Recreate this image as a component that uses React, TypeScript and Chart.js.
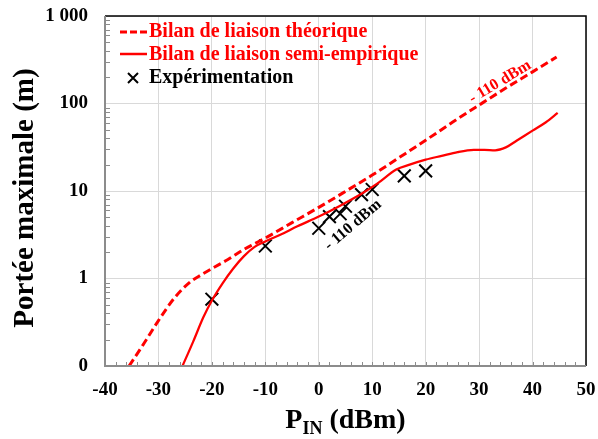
import React, { useEffect, useRef } from 'react';
import { Chart, registerables } from 'chart.js';

Chart.register(...registerables);

// ---- Data ----
const theoX = [-35.5, -33, -30, -27, -24, -22, -20, -17, -14, -12, -10, -5, 0, 5, 10, 15, 20, 25, 30, 35, 40, 44.5];
const theoY = [0.1, 0.17, 0.33, 0.6, 0.92, 1.1, 1.3, 1.65, 2.15, 2.5, 2.9, 4.35, 6.5, 9.9, 15.2, 24, 38, 61, 96, 150, 230, 340];

const semiX = [-25.5, -23.5, -21.6, -20, -18, -16, -14, -12, -10, -7, -4, 0, 4, 8, 11, 14.5, 17, 20, 23, 26, 29, 31, 33, 35, 37, 40, 42.5, 44.7];
const semiY = [0.1, 0.19, 0.36, 0.56, 0.88, 1.3, 1.8, 2.3, 2.65, 3.2, 3.95, 5.1, 6.8, 9.3, 12.2, 17.6, 20, 22.8, 25.2, 27.8, 29.5, 29.6, 29.2, 31.5, 37.5, 49, 61, 78];

const expX = [-20, -10, 0, 2, 4, 5, 8, 10, 16, 20];
const expY = [0.58, 2.35, 3.75, 5.1, 5.5, 6.7, 9.1, 10.4, 14.9, 17];

const xTicks = [-40, -30, -20, -10, 0, 10, 20, 30, 40, 50];
const yMajorTicks = [0.1, 1, 10, 100, 1000];
const yTickLabels = ['0', '1', '10', '100', '1 000'];

const legendLabels = ['Bilan de liaison théorique', 'Bilan de liaison semi-empirique', 'Expérimentation'];
const annotationText = '- 110 dBm';
const yTitle = 'Portée maximale (m)';
const xTitleMain = 'P';
const xTitleSub = 'IN';
const xTitleRest = ' (dBm)';

const SERIF = "'Liberation Serif', 'Times New Roman', serif";
const RED = '#ff0000';

const decorPlugin = {
  id: 'decor',
  afterDraw(chart: any) {
    const ctx = chart.ctx;
    const { left, right, top, bottom } = chart.chartArea;
    const xs = chart.scales.x;
    const ys = chart.scales.y;
    ctx.save();

    // minor ticks
    ctx.strokeStyle = '#8c8c8c';
    ctx.lineWidth = 1;
    ctx.beginPath();
    for (const d of [0.1, 1, 10, 100]) {
      for (let k = 2; k <= 9; k++) {
        const py = Math.round(ys.getPixelForValue(k * d)) + 0.5;
        ctx.moveTo(left, py);
        ctx.lineTo(left + 5, py);
      }
    }
    for (let v = -38; v < 50; v += 2) {
      const px = Math.round(xs.getPixelForValue(v)) + 0.5;
      ctx.moveTo(px, bottom);
      ctx.lineTo(px, bottom - 4);
    }
    ctx.stroke();

    // border
    ctx.strokeStyle = '#000';
    ctx.lineWidth = 1.5;
    ctx.beginPath();
    ctx.moveTo(left, top);
    ctx.lineTo(right, top);
    ctx.lineTo(right, bottom);
    ctx.stroke();
    ctx.strokeStyle = '#8c8c8c';
    ctx.lineWidth = 2;
    ctx.beginPath();
    ctx.moveTo(left, top);
    ctx.lineTo(left, bottom);
    ctx.lineTo(right, bottom);
    ctx.stroke();

    // legend
    ctx.textAlign = 'left';
    ctx.textBaseline = 'alphabetic';
    ctx.font = `bold 20px ${SERIF}`;
    ctx.strokeStyle = RED;
    ctx.lineWidth = 3;
    ctx.setLineDash([7, 3]);
    ctx.beginPath();
    ctx.moveTo(120, 32);
    ctx.lineTo(147, 32);
    ctx.stroke();
    ctx.setLineDash([]);
    ctx.fillStyle = RED;
    ctx.fillText(legendLabels[0], 149, 37);
    ctx.lineWidth = 2.5;
    ctx.beginPath();
    ctx.moveTo(120, 54);
    ctx.lineTo(147, 54);
    ctx.stroke();
    ctx.fillText(legendLabels[1], 149, 60);
    ctx.strokeStyle = '#000';
    ctx.lineWidth = 2;
    ctx.beginPath();
    ctx.moveTo(128, 73);
    ctx.lineTo(138, 83);
    ctx.moveTo(138, 73);
    ctx.lineTo(128, 83);
    ctx.stroke();
    ctx.fillStyle = '#000';
    ctx.fillText(legendLabels[2], 149, 83);

    // annotations
    ctx.font = `bold 16px ${SERIF}`;
    ctx.textAlign = 'center';
    ctx.textBaseline = 'middle';
    ctx.save();
    ctx.translate(500, 82);
    ctx.rotate((-31 * Math.PI) / 180);
    ctx.fillStyle = RED;
    ctx.fillText(annotationText, 0, 0);
    ctx.restore();
    ctx.save();
    ctx.translate(353, 225);
    ctx.rotate((-40.5 * Math.PI) / 180);
    ctx.fillStyle = '#000';
    ctx.fillText(annotationText, 0, 0);
    ctx.restore();

    // y title
    ctx.save();
    ctx.font = `bold 29px ${SERIF}`;
    ctx.fillStyle = '#000';
    ctx.textAlign = 'center';
    ctx.textBaseline = 'alphabetic';
    ctx.translate(33, 198);
    ctx.rotate(-Math.PI / 2);
    ctx.fillText(yTitle, 0, 0);
    ctx.restore();

    // x title with subscript
    ctx.save();
    ctx.fillStyle = '#000';
    ctx.textAlign = 'left';
    ctx.textBaseline = 'alphabetic';
    const mainFont = `bold 28px ${SERIF}`;
    const subFont = `bold 18px ${SERIF}`;
    ctx.font = mainFont;
    const wP = ctx.measureText(xTitleMain).width;
    const wR = ctx.measureText(xTitleRest).width;
    ctx.font = subFont;
    const wS = ctx.measureText(xTitleSub).width;
    const total = wP + wS + wR;
    let x0 = (left + right) / 2 - total / 2;
    const base = 428;
    ctx.font = mainFont;
    ctx.fillText(xTitleMain, x0, base);
    x0 += wP;
    ctx.font = subFont;
    ctx.fillText(xTitleSub, x0, base + 6);
    x0 += wS;
    ctx.font = mainFont;
    ctx.fillText(xTitleRest, x0, base);
    ctx.restore();

    ctx.restore();
  },
};

export default function App() {
  const ref = useRef<HTMLCanvasElement | null>(null);

  useEffect(() => {
    if (!ref.current) return;
    const tickFont = { family: SERIF, weight: 'bold' as const, size: 19 };
    const chart = new Chart(ref.current, {
      type: 'line',
      data: {
        datasets: [
          {
            label: legendLabels[0],
            data: theoX.map((x, i) => ({ x, y: theoY[i] })),
            borderColor: RED,
            borderWidth: 3,
            borderDash: [8, 4],
            pointRadius: 0,
            fill: false,
            cubicInterpolationMode: 'monotone',
          },
          {
            label: legendLabels[1],
            data: semiX.map((x, i) => ({ x, y: semiY[i] })),
            borderColor: RED,
            borderWidth: 2.25,
            pointRadius: 0,
            fill: false,
            cubicInterpolationMode: 'monotone',
          },
          {
            label: legendLabels[2],
            data: expX.map((x, i) => ({ x, y: expY[i] })),
            showLine: false,
            pointStyle: 'crossRot',
            pointRadius: 9,
            pointBorderWidth: 2,
            pointBorderColor: '#000',
            pointBackgroundColor: '#000',
            borderColor: '#000',
          },
        ],
      },
      options: {
        animation: false,
        responsive: false,
        devicePixelRatio: 1,
        layout: { padding: { left: 0, right: 12, top: 16, bottom: 0 } },
        plugins: {
          legend: { display: false },
          tooltip: { enabled: false },
          title: { display: false },
        },
        scales: {
          x: {
            type: 'linear',
            min: -40,
            max: 50,
            afterBuildTicks: (s: any) => {
              s.ticks = xTicks.map((v) => ({ value: v }));
            },
            afterFit: (s: any) => {
              s.height = 73;
              s.paddingLeft = 0;
              s.paddingRight = 0;
              s.paddingTop = 0;
              s.paddingBottom = 0;
            },
            grid: { color: '#d9d9d9', lineWidth: 1, drawTicks: false },
            border: { display: false },
            ticks: {
              font: tickFont,
              color: '#000',
              padding: 13,
              maxRotation: 0,
              autoSkip: false,
              callback: (v: any) => String(v),
            },
          },
          y: {
            type: 'logarithmic',
            min: 0.1,
            max: 1000,
            afterBuildTicks: (s: any) => {
              s.ticks = yMajorTicks.map((v) => ({ value: v }));
            },
            afterFit: (s: any) => {
              s.width = 105;
              s.paddingLeft = 0;
              s.paddingRight = 0;
              s.paddingTop = 0;
              s.paddingBottom = 0;
            },
            grid: { color: '#d9d9d9', lineWidth: 1, drawTicks: false },
            border: { display: false },
            ticks: {
              font: tickFont,
              color: '#000',
              padding: 17,
              autoSkip: false,
              callback: (v: any) => {
                const i = yMajorTicks.indexOf(Number(v));
                return i >= 0 ? yTickLabels[i] : '';
              },
            },
          },
        },
      },
      plugins: [decorPlugin],
    } as any);
    return () => chart.destroy();
  }, []);

  return (
    <div style={{ position: 'absolute', left: 0, top: 0, width: 598, height: 439, background: '#fff' }}>
      <canvas ref={ref} width={598} height={439} style={{ display: 'block', width: 598, height: 439 }} />
    </div>
  );
}
